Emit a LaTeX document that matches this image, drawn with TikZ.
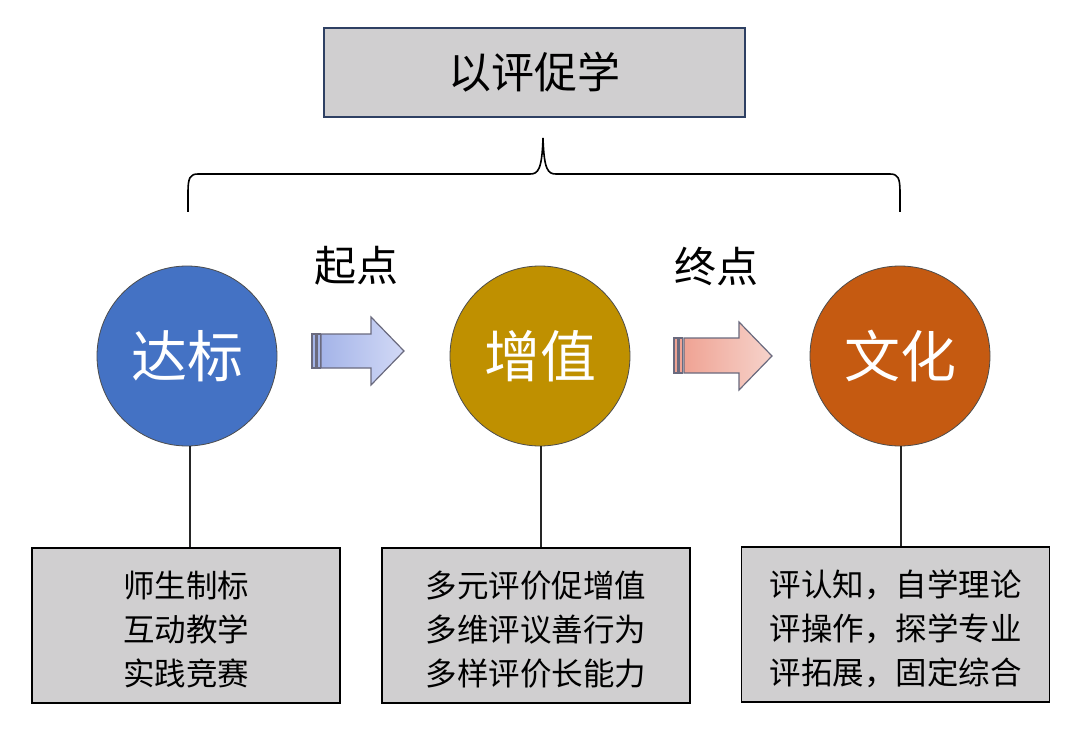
\documentclass[tikz,border=0pt]{standalone}
\usepackage{fontspec}
\setmainfont{Noto Sans CJK SC}
\usetikzlibrary{shadings}
\definecolor{boxgray}{HTML}{D0CFD0}
\definecolor{topline}{HTML}{2E4063}
\definecolor{cblue}{HTML}{4472C4}
\definecolor{cgold}{HTML}{BF9000}
\definecolor{corange}{HTML}{C55A11}
\definecolor{arrline}{HTML}{6A6A7E}
\definecolor{bluea}{HTML}{A4B4E8}
\definecolor{blueb}{HTML}{D2D9F6}
\definecolor{pinka}{HTML}{EFA394}
\definecolor{pinkb}{HTML}{F6D3CB}
\tikzset{
  circ/.style={circle, draw=black!70, line width=0.8pt, minimum size=180pt, inner sep=0pt, text=white, font=\fontsize{56}{64}\selectfont},
  infobox/.style={draw=black, line width=1.6pt, fill=boxgray, minimum width=308pt, minimum height=155pt},
  boxtext/.style={align=center, font=\fontsize{31.5}{44}\selectfont},
  lbl/.style={font=\fontsize{42}{48}\selectfont},
  conn/.style={line width=1.2pt, black!85},
  arrowshape/.style={draw=arrline, line width=1.2pt},
}
\begin{document}
\begin{tikzpicture}[x=1pt,y=-1pt]
\useasboundingbox (0,0) rectangle (1080,733);
% top box
\node[draw=topline, line width=1.6pt, fill=boxgray, minimum width=421pt, minimum height=89pt, font=\fontsize{43}{48}\selectfont] (top) at (534.5,72.5) {以评促学};
% brace
\coordinate (bl) at (188,212);
\coordinate (br) at (900,212);
\coordinate (bt) at (543,138);
\draw[line width=1.6pt] (bl) -- (188,192) .. controls (188,178) and (190,174) .. (198,174) -- (530,174) .. controls (538,174) and (542,170) .. (bt) .. controls (544,170) and (548,174) .. (556,174) -- (890,174) .. controls (898,174) and (900,178) .. (900,192) -- (br);
% circles
\node[circ, fill=cblue] (c1) at (187,356) {达标};
\node[circ, fill=cgold] (c2) at (540,356) {增值};
\node[circ, fill=corange] (c3) at (900,356) {文化};
% labels
\node[lbl] (l1) at (356,266) {起点};
\node[lbl] (l2) at (716,266) {终点};
% arrows
\shade[left color=bluea, right color=blueb] (321,334) -- (371,334) -- (371,317) -- (404,351) -- (371,385) -- (371,368) -- (321,368) -- cycle;
\draw[arrowshape] (321,334) -- (371,334) -- (371,317) -- (404,351) -- (371,385) -- (371,368) -- (321,368) -- cycle;
\draw[arrowshape, fill=bluea] (312,334) rectangle (315.5,368);
\draw[arrowshape, fill=bluea] (317,334) rectangle (320.5,368);
\shade[left color=pinka, right color=pinkb] (684,338) -- (739,338) -- (739,322) -- (772,356) -- (739,390) -- (739,373) -- (684,373) -- cycle;
\draw[arrowshape] (684,338) -- (739,338) -- (739,322) -- (772,356) -- (739,390) -- (739,373) -- (684,373) -- cycle;
\draw[arrowshape, fill=pinka] (674,338) rectangle (677.5,373);
\draw[arrowshape, fill=pinka] (679,338) rectangle (682.5,373);
% bottom boxes
\node[infobox] (b1) at (186,625.5) {};
\node[infobox] (b2) at (536,625.5) {};
\node[infobox] (b3) at (895.5,624.5) {};
\node[boxtext] (t1) at ([yshift=-4pt]b1.center) {师生制标\\互动教学\\实践竞赛};
\node[boxtext] (t2) at ([yshift=-4pt]b2.center) {多元评价促增值\\多维评议善行为\\多样评价长能力};
\node[boxtext] (t3) at ([yshift=-4pt]b3.center) {评认知，自学理论\\评操作，探学专业\\评拓展，固定综合};
% connectors
\draw[conn] (c1.south -| 190,0) -- (b1.north -| 190,0);
\draw[conn] (c2.south -| 541,0) -- (b2.north -| 541,0);
\draw[conn] (c3.south -| 901,0) -- (b3.north -| 901,0);
\end{tikzpicture}
\end{document}
